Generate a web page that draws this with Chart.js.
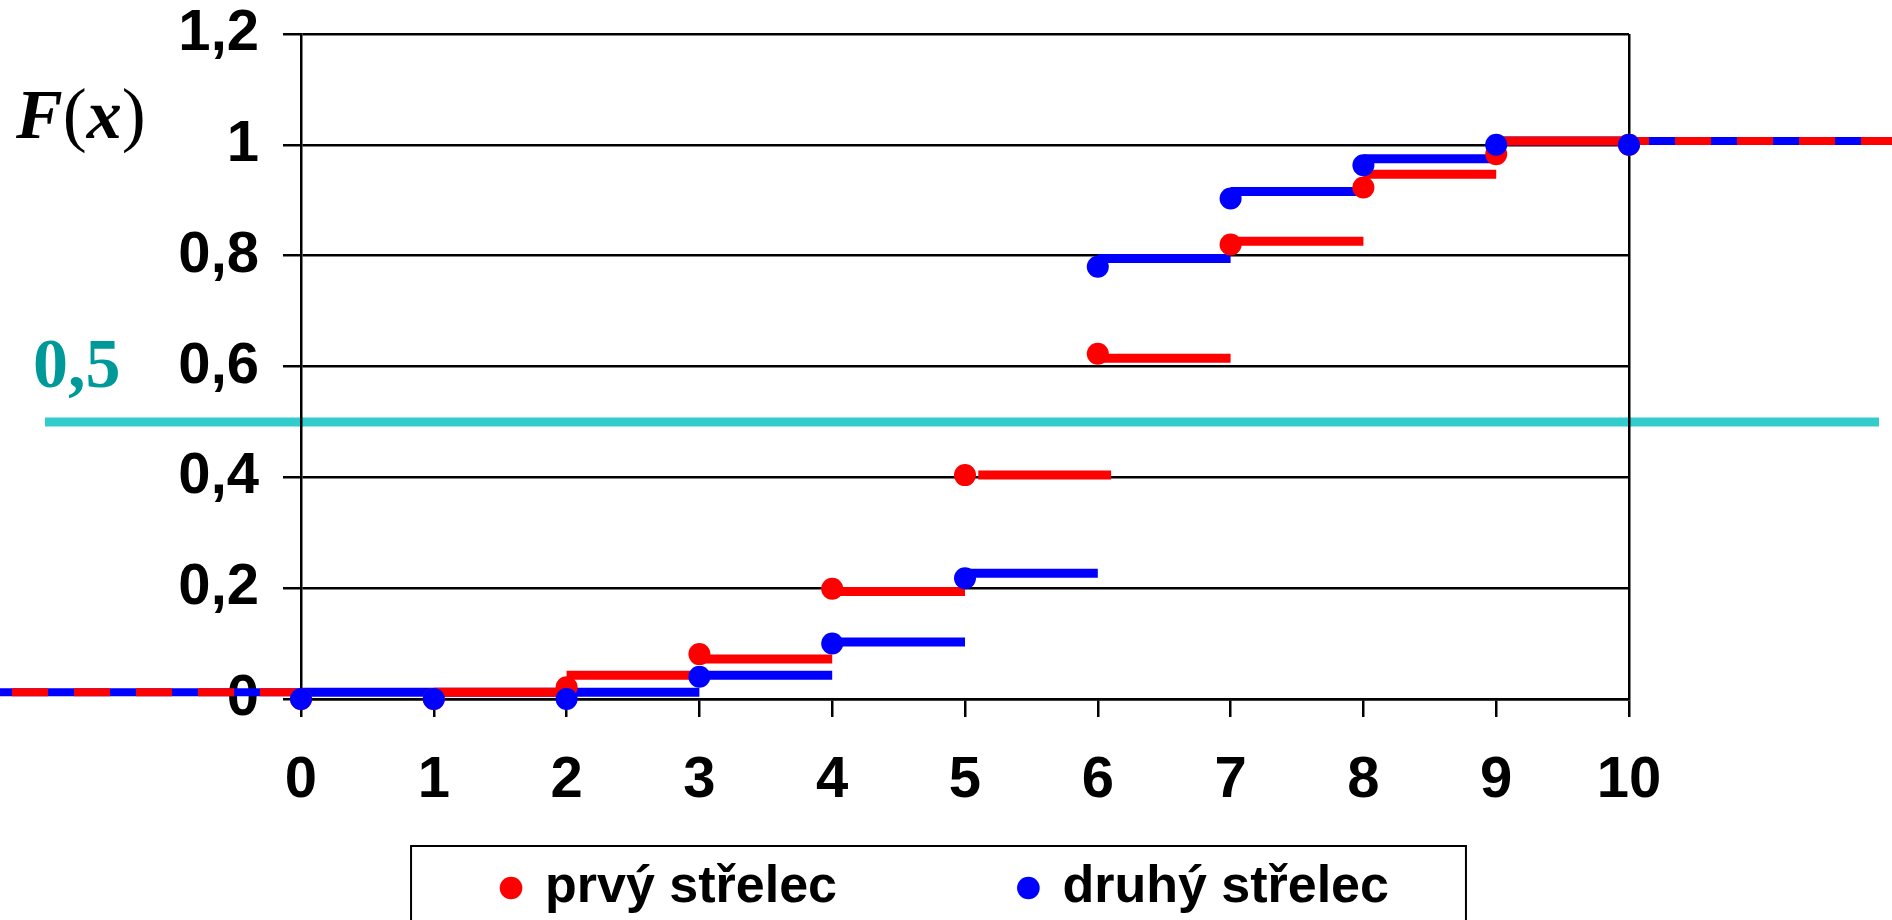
<!DOCTYPE html>
<html>
<head>
<meta charset="utf-8">
<title>F(x) - dva střelci</title>
<script src="https://cdn.jsdelivr.net/npm/chart.js@4.4.1/dist/chart.umd.min.js"></script>
<style>
  html, body { margin: 0; padding: 0; background: #fff; overflow: hidden; }
  #wrap { width: 1892px; height: 920px; position: relative; }
</style>
</head>
<body>
<div id="wrap"><canvas id="cdfChart"></canvas></div>
<script>
// ====== DATA ======
const shots = [0, 1, 2, 3, 4, 5, 6, 7, 8, 9, 10];
const firstShooterF  = [0, 0, 0.021, 0.081, 0.199, 0.404, 0.623, 0.820, 0.923, 0.983, 1.0];
const secondShooterF = [0, 0, 0, 0.040, 0.100, 0.218, 0.780, 0.903, 0.963, 1.0, 1.0];

// drawn step segments (start, end, level)
const firstStepFrom   = [1, 2, 3, 4, 5.1, 6, 7, 8, 9];
const firstStepTo     = [2, 3, 4, 5, 6.1, 7, 8, 9, 10];
const firstStepLevel  = [0.012, 0.043, 0.072, 0.194, 0.404, 0.615, 0.826, 0.947, 1.007];
const secondStepFrom  = [0, 3, 4, 5, 6, 7, 8, 9];
const secondStepTo    = [3, 4, 5, 6, 7, 8, 9, 10];
const secondStepLevel = [0.012, 0.043, 0.103, 0.227, 0.795, 0.916, 0.975, 1.007];

// tails to -inf / +inf
const leftTail = [0, -3];
const rightTail = [10, 13];
const leftTailLevel = 0.012;
const rightTailLevel = 1.007;

const medianLevel = 0.5;
const seriesNames = ['prvý střelec', 'druhý střelec'];
const xTickLabels = ['0', '1', '2', '3', '4', '5', '6', '7', '8', '9', '10'];
const yTickLabels = ['0', '0,2', '0,4', '0,6', '0,8', '1', '1,2'];

// ====== HELPERS ======
const RED = '#FF0000';
const BLUE = '#0000FF';
const SANS = 'Arial, "Liberation Sans", sans-serif';
const SERIF = '"Times New Roman", "Liberation Serif", serif';

function dots(values) {
  return shots.map((x, i) => ({ x: x, y: values[i] }));
}

function steps(from, to, level) {
  const pts = [];
  level.forEach((v, i) => {
    pts.push({ x: from[i], y: v }, { x: to[i], y: v }, { x: to[i], y: null });
  });
  return pts;
}

function tail(xs, level) {
  return xs.map(x => ({ x: x, y: level }));
}

// cyan 0.5 line, F(x) label, legend frame
const decorPlugin = {
  id: 'decor',
  beforeDraw(chart) {
    const { ctx, chartArea, scales } = chart;
    const yy = scales.y.getPixelForValue(medianLevel);
    ctx.save();
    ctx.strokeStyle = '#33CCCC';
    ctx.lineWidth = 9;
    ctx.beginPath();
    ctx.moveTo(chartArea.left - 256, yy);
    ctx.lineTo(chartArea.right + 250, yy);
    ctx.stroke();
    ctx.restore();
  },
  afterDraw(chart) {
    const { ctx, scales } = chart;
    ctx.save();
    ctx.textBaseline = 'alphabetic';
    ctx.textAlign = 'left';
    ctx.fillStyle = '#000';

    // F(x): italic letters, upright brackets
    const base = scales.y.getPixelForValue(1) - 7;
    const parts = [
      ['F', 'italic bold 70px '],
      ['(', '72px '],
      ['x', 'italic bold 70px '],
      [')', '72px ']
    ];
    let px = 16;
    parts.forEach(([t, f]) => {
      ctx.font = f + SERIF;
      ctx.fillText(t, px, base);
      px += ctx.measureText(t).width;
    });

    ctx.fillStyle = '#009999';
    ctx.font = 'bold 70px ' + SERIF;
    ctx.fillText('0,5', 33, scales.y.getPixelForValue(medianLevel) - 35);

    const boxes = chart.legend.legendHitBoxes;
    if (boxes && boxes.length) {
      const last = boxes[boxes.length - 1];
      const left = boxes[0].left - 92;
      const right = last.left + last.width + 77;
      const top = chart.legend.top - 6;
      ctx.strokeStyle = '#000';
      ctx.lineWidth = 2;
      ctx.strokeRect(left, top, right - left, chart.height - top + 20);
    }
    ctx.restore();
  }
};

// ====== CHART ======
document.addEventListener('DOMContentLoaded', () => {
  const ctx = document.getElementById('cdfChart').getContext('2d');

  new Chart(ctx, {
    type: 'scatter',
    data: {
      datasets: [
        { label: seriesNames[0], data: dots(firstShooterF), order: 1, clip: false,
          backgroundColor: RED, borderColor: RED, borderWidth: 0, pointStyle: 'circle',
          pointRadius: 11, pointHoverRadius: 11, pointBorderWidth: 0 },
        { label: seriesNames[1], data: dots(secondShooterF), order: 0, clip: false,
          backgroundColor: BLUE, borderColor: BLUE, borderWidth: 0, pointStyle: 'circle',
          pointRadius: 11, pointHoverRadius: 11, pointBorderWidth: 0 },
        { label: 'steps1', data: steps(firstStepFrom, firstStepTo, firstStepLevel), order: 2,
          showLine: true, spanGaps: false, clip: false, borderColor: RED, borderWidth: 9,
          borderCapStyle: 'butt', pointRadius: 0, pointHoverRadius: 0 },
        { label: 'steps2', data: steps(secondStepFrom, secondStepTo, secondStepLevel), order: 3,
          showLine: true, spanGaps: false, clip: false, borderColor: BLUE, borderWidth: 9,
          borderCapStyle: 'butt', pointRadius: 0, pointHoverRadius: 0 },
        { label: 'tailL1', data: tail(leftTail, leftTailLevel), order: 4,
          showLine: true, clip: false, borderColor: RED, borderWidth: 8,
          borderDash: [36, 26], borderDashOffset: 57, borderCapStyle: 'butt',
          pointRadius: 0, pointHoverRadius: 0 },
        { label: 'tailR1', data: tail(rightTail, rightTailLevel), order: 4,
          showLine: true, clip: false, borderColor: RED, borderWidth: 8,
          borderDash: [36, 26], borderDashOffset: 16, borderCapStyle: 'butt',
          pointRadius: 0, pointHoverRadius: 0 },
        { label: 'tails2', data: tail(leftTail, leftTailLevel).concat([{ x: 5, y: null }], tail(rightTail, rightTailLevel)),
          order: 5, showLine: true, spanGaps: false, clip: false, borderColor: BLUE, borderWidth: 8,
          borderCapStyle: 'butt', pointRadius: 0, pointHoverRadius: 0 }
      ]
    },
    options: {
      responsive: true,
      maintainAspectRatio: false,
      animation: false,
      events: [],
      layout: { padding: { left: 0, right: 0, top: 34, bottom: -4 } },
      scales: {
        x: {
          type: 'linear',
          min: 0,
          max: 10,
          afterFit: s => { s.height = 153; },
          ticks: {
            stepSize: 1,
            padding: 35,
            color: '#000',
            font: { family: SANS, size: 58, weight: 'bold', lineHeight: 1 },
            callback: (v, i) => xTickLabels[i]
          },
          grid: {
            color: c => (c.tick && c.tick.value === 10 ? '#000' : 'rgba(0,0,0,0)'),
            tickColor: '#000',
            lineWidth: 2.5,
            tickLength: 18
          },
          border: { display: true, color: '#000', width: 2.5 }
        },
        y: {
          min: 0,
          max: 1.2,
          afterFit: s => { s.width = 301; s.paddingTop = 0; s.paddingBottom = 0; },
          ticks: {
            stepSize: 0.2,
            padding: 24,
            color: '#000',
            font: { family: SANS, size: 58, weight: 'bold', lineHeight: 1 },
            callback: (v, i) => yTickLabels[i]
          },
          grid: { color: '#000', lineWidth: 2.5, tickLength: 18 },
          border: { display: true, color: '#000', width: 2.5 }
        },
        y2: {
          position: 'right',
          afterFit: s => { s.width = 263; s.paddingTop = 0; s.paddingBottom = 0; },
          ticks: { display: false },
          grid: { display: false },
          border: { display: false }
        }
      },
      plugins: {
        tooltip: { enabled: false },
        legend: {
          position: 'bottom',
          labels: {
            usePointStyle: true,
            boxWidth: 16,
            boxHeight: 16,
            padding: 10,
            color: '#000',
            font: { family: SANS, size: 52, weight: 'bold' },
            filter: item => item.datasetIndex < 2,
            sort: (a, b) => a.datasetIndex - b.datasetIndex,
            generateLabels: chart => {
              const items = Chart.defaults.plugins.legend.labels.generateLabels(chart);
              items.forEach(it => {
                // gap between the two entries
                if (it.datasetIndex === 0) it.text += '            ';
              });
              return items;
            }
          }
        }
      }
    },
    plugins: [decorPlugin]
  });
});
</script>
</body>
</html>
